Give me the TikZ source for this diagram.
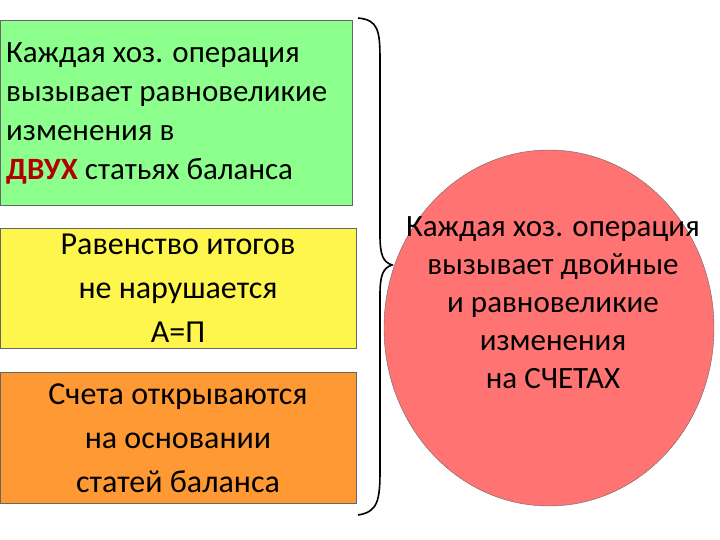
\documentclass[tikz,border=0pt]{standalone}
\usepackage{fontspec}
\setmainfont{Carlito}
\usetikzlibrary{shapes.geometric}
\begin{document}
\begin{tikzpicture}[x=1pt,y=-1pt,
  txt/.style={font=\fontsize{32}{44}\selectfont,align=center}]
\useasboundingbox (0,0) rectangle (720,540);
\fill[fill=green!45!white,draw=black!60] (0,20) rectangle (352,205);
\node[anchor=west,align=left,font=\fontsize{31}{39}\selectfont,inner sep=0pt] (t1) at (6,113)
 {Каждая хоз. операция\\ вызывает равновеликие\\ изменения в\\{\color{red!70!black}\bfseries ДВУХ} статьях баланса};
\fill[fill=yellow!70!white,draw=black!60] (0,228) rectangle (356,348);
\node[txt] (t2) at (178,288) {Равенство итогов\\не нарушается\\А=П};
\fill[fill=orange!80!white,draw=black!60] (0,372) rectangle (356,503);
\node[txt] (t3) at (178,438) {Счета открываются\\на основании\\статей баланса};
\draw[line width=1.6pt] (358,18) .. controls (378,20) and (380,30) .. (380,60) -- (380,235)
  .. controls (380,255) and (383,262) .. (392,265)
  .. controls (383,268) and (380,275) .. (380,295) -- (380,470)
  .. controls (380,500) and (378,512) .. (358,515);
\node[draw=black!60,fill=red!55!white,ellipse,minimum width=330pt,minimum height=356pt,inner sep=0pt] (c) at (549,328) {};
\node[align=center,font=\fontsize{31}{38}\selectfont] (ct) at (553,303) {Каждая хоз. операция\\вызывает двойные\\и равновеликие\\изменения\\на СЧЕТАХ};
\end{tikzpicture}
\end{document}
